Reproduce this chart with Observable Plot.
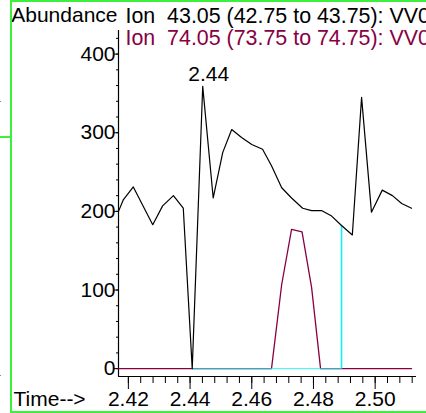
<!DOCTYPE html>
<html>
<head>
<meta charset="utf-8">
<script src="https://cdn.jsdelivr.net/npm/d3@7"></script>
<script src="https://cdn.jsdelivr.net/npm/@observablehq/plot@0.6"></script>
<style>
  body { margin: 0; background: white; }
  #wrap { position: relative; width: 426px; height: 413px; overflow: hidden; }
  .deco { position: absolute; pointer-events: none; }
</style>
</head>
<body>
<div id="wrap"></div>
<script>
// Ion 43.05 trace (black)
const t43 = [2.4168, 2.4184, 2.4216, 2.4279, 2.4311, 2.4346, 2.4378, 2.4407, 2.4441, 2.4475,
             2.4506, 2.4535, 2.4567, 2.4600, 2.4635, 2.4664, 2.4697, 2.4729, 2.4765, 2.4794,
             2.4826, 2.4859, 2.4891, 2.4926, 2.4956, 2.4988, 2.5023, 2.5056, 2.5086, 2.5118];
const v43 = [200, 215, 231, 183, 207, 220, 204, 0, 359, 217,
             275, 304, 294, 285, 279, 258, 230, 217, 204, 201,
             201, 194, 182, 170, 345, 199, 227, 220, 210, 204];
// Ion 74.05 trace (purple)
const t74 = [2.4168, 2.4664, 2.4697, 2.4729, 2.4763, 2.4794, 2.4823, 2.5118];
const v74 = [0, 0, 107, 177, 174, 103, 0, 0];
// integration baseline (cyan)
const baseT = [2.4407, 2.4891];
const baseV = [0, 0];
const dropT = [2.4891];
const dropV = [182];
// peak label
const peakT = [2.4441];
const peakV = [359];
const peakLabel = ["2.44"];
// axis ticks
const xTicks = [2.42, 2.44, 2.46, 2.48, 2.50];
const yTicks = [0, 100, 200, 300, 400];
const xDomain = [2.4168, 2.5134];
const yDomain = [-10, 430];
const header1 = "Ion\u00a0\u00a043.05 (42.75 to 43.75): VV0";
const header2 = "Ion\u00a0\u00a074.05 (73.75 to 74.75): VV0";

const black = t43.map((t, i) => ({t, v: v43[i]}));
const purple = t74.map((t, i) => ({t, v: v74[i]}));
const base = baseT.map((t, i) => ({t, v: baseV[i]}));
const drop = dropT.map((t, i) => ({t, v: dropV[i]}));
const peak = peakT.map((t, i) => ({t, v: peakV[i], label: peakLabel[i]}));

const xMinor = d3.range(2.42, 2.5135, 0.004).map(d => +d.toFixed(3));
const yMinor = d3.range(0, 430, 20);
const FS = 21;
const PURPLE = "#880044";
const CYAN = "#10f0f8";

const chart = Plot.plot({
  width: 426,
  height: 413,
  marginLeft: 118,
  marginRight: 10,
  marginTop: 30,
  marginBottom: 37,
  style: {fontFamily: "'Liberation Sans', Arial, sans-serif", fontSize: FS + "px", background: "white", color: "black"},
  x: {domain: xDomain, label: null},
  y: {domain: yDomain, label: null},
  marks: [
    Plot.axisX(xMinor, {tickSize: 7, text: null, label: null, stroke: "black"}),
    Plot.axisX(xTicks, {tickSize: 13, tickPadding: 1.8, fontSize: FS, tickFormat: d3.format(".2f"), label: null, stroke: "black", fill: "black"}),
    Plot.axisY(yMinor, {tickSize: 2, text: null, label: null, stroke: "black"}),
    Plot.axisY(yTicks, {tickSize: 4, tickPadding: -1, fontSize: FS, label: null, stroke: "black", fill: "black"}),
    Plot.ruleX([xDomain[0]], {stroke: "black", strokeWidth: 1.2}),
    Plot.ruleY([yDomain[0]], {stroke: "black", strokeWidth: 1.2}),
    Plot.line(purple, {x: "t", y: "v", stroke: PURPLE, strokeWidth: 1.3}),
    Plot.line(base, {x: "t", y: "v", stroke: CYAN, strokeWidth: 1.3, strokeOpacity: 0.7}),
    Plot.ruleX(drop, {x: "t", y1: 0, y2: "v", stroke: CYAN, strokeWidth: 1.6}),
    Plot.line(black, {x: "t", y: "v", stroke: "black", strokeWidth: 1.2}),
    Plot.text(peak, {x: "t", y: "v", text: "label", fontSize: FS, dx: 6, dy: -20, lineAnchor: "top", fill: "black"}),
    Plot.text(["Abundance"], {frameAnchor: "top-left", text: d => d, textAnchor: "end", dx: -1, dy: -23.2, lineAnchor: "top", fontSize: FS, fill: "black"}),
    Plot.text([header1], {frameAnchor: "top-left", text: d => d, textAnchor: "start", dx: 7, dy: -23.2, lineAnchor: "top", fontSize: 21.4, fill: "black"}),
    Plot.text([header2], {frameAnchor: "top-left", text: d => d, textAnchor: "start", dx: 7, dy: -0.6, lineAnchor: "top", fontSize: 21.4, fill: PURPLE}),
    Plot.text(["Time-->"], {frameAnchor: "bottom-left", text: d => d, textAnchor: "start", dx: -105, dy: 14.8, lineAnchor: "top", fontSize: FS, fill: "black"})
  ]
});

const wrap = document.getElementById("wrap");
wrap.appendChild(chart);

function deco(css) {
  const d = document.createElement("div");
  d.className = "deco";
  d.setAttribute("style", css);
  wrap.appendChild(d);
}
deco("left:10px;top:-0.5px;width:440px;height:409px;border:2px solid #3df03d;box-sizing:content-box;");
deco("left:0px;top:136px;width:11px;height:1.5px;background:#3df03d;");
deco("left:0px;top:101px;width:1px;height:1px;background:#888;");
deco("left:0px;top:375px;width:1px;height:1px;background:#888;");
</script>
</body>
</html>
